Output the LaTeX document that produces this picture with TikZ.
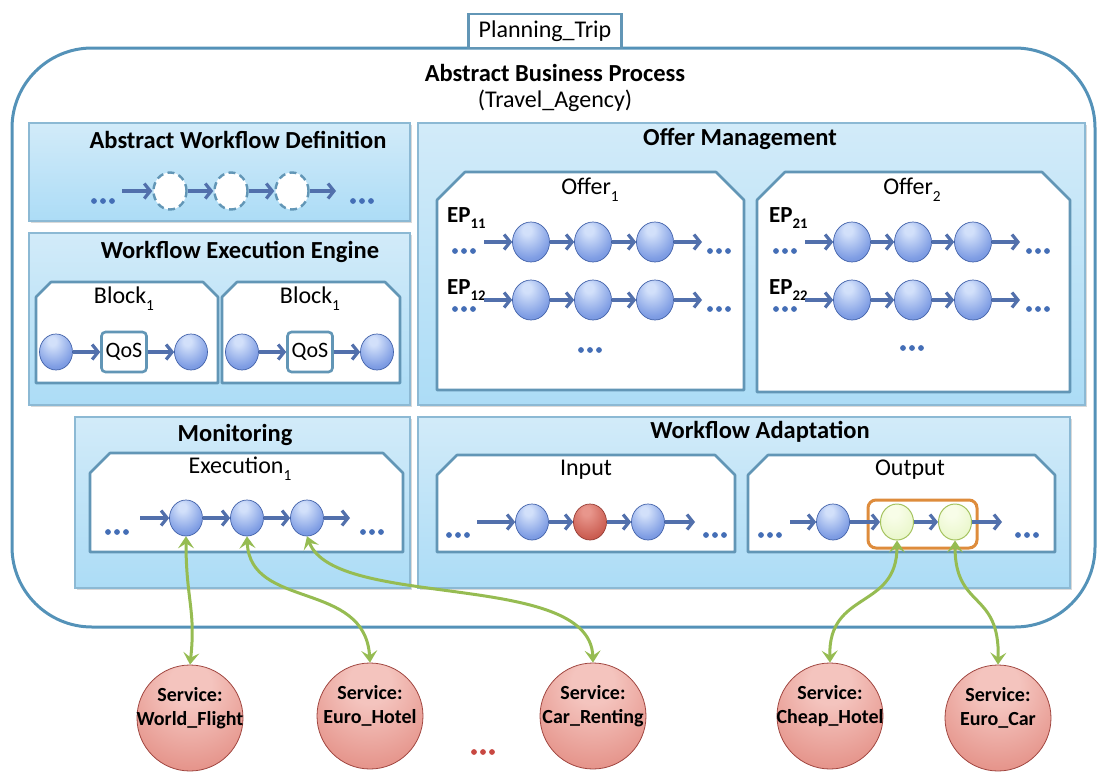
\documentclass[tikz,border=0pt]{standalone}
\usepackage{fontspec}
\setmainfont{Carlito}
\usetikzlibrary{arrows.meta,shapes.geometric,shadows}

% palette
\definecolor{framecol}{RGB}{84,146,184}
\definecolor{panelline}{RGB}{140,185,212}
\definecolor{paneltop}{RGB}{210,235,249}
\definecolor{panelbot}{RGB}{172,220,246}
\definecolor{boxline}{RGB}{98,150,182}
\definecolor{chainblue}{RGB}{82,112,172}
\definecolor{dotblue}{RGB}{68,110,182}
\definecolor{dotred}{RGB}{200,72,66}
\definecolor{linkgreen}{RGB}{150,188,82}
\definecolor{grouporange}{RGB}{222,140,60}
\definecolor{balledge}{RGB}{66,98,170}
\definecolor{redballedge}{RGB}{150,60,52}
\definecolor{greenedge}{RGB}{165,195,95}
\definecolor{svcedge}{RGB}{160,70,64}
% sphere tones
\definecolor{bsA}{RGB}{210,224,250}
\definecolor{bsB}{RGB}{128,158,228}
\definecolor{bsC}{RGB}{76,110,196}
\definecolor{rsA}{RGB}{244,196,190}
\definecolor{rsB}{RGB}{226,138,128}
\definecolor{rsC}{RGB}{198,84,76}
\definecolor{rbA}{RGB}{232,150,140}
\definecolor{rbB}{RGB}{202,92,80}
\definecolor{rbC}{RGB}{172,62,52}
\definecolor{gsA}{RGB}{248,253,232}
\definecolor{gsB}{RGB}{232,246,200}
\definecolor{gsC}{RGB}{210,234,165}

\pgfdeclareradialshading{bluesphere}{\pgfpoint{-6bp}{16bp}}{color(0bp)=(bsA); color(6bp)=(bsA); color(30bp)=(bsB); color(58bp)=(bsC); color(80bp)=(bsC)}
\pgfdeclareradialshading{redsphere}{\pgfpoint{0bp}{18bp}}{color(0bp)=(rsA); color(10bp)=(rsA); color(40bp)=(rsB); color(68bp)=(rsC); color(80bp)=(rsC)}
\pgfdeclareradialshading{redball}{\pgfpoint{-6bp}{16bp}}{color(0bp)=(rbA); color(6bp)=(rbA); color(32bp)=(rbB); color(60bp)=(rbC); color(80bp)=(rbC)}
\pgfdeclareradialshading{greensphere}{\pgfpoint{-6bp}{16bp}}{color(0bp)=(gsA); color(8bp)=(gsA); color(36bp)=(gsB); color(62bp)=(gsC); color(80bp)=(gsC)}

% a white container with cut-off upper corners
\newcommand\tabbox[5]{\draw[tabline] (#1,#4) -- (#1,#2+#5) -- (#1+#5,#2) -- (#3-#5,#2) -- (#3,#2+#5) -- (#3,#4) -- cycle;}
% three dots for an elided sequence
\newcommand\dotrow[3]{\fill[#3] (#1-9,#2) circle (2.9pt) (#1,#2) circle (2.9pt) (#1+9,#2) circle (2.9pt);}
% subscript index set low, as in the labels
\newcommand\idx[1]{\raisebox{-0.3em}{\fontsize{0.64em}{0.7em}\selectfont #1}}

\begin{document}
\begin{tikzpicture}[x=1pt,y=-1pt,
  panel/.style={draw=panelline, line width=1.2pt, top color=paneltop, bottom color=panelbot,
    drop shadow={shadow xshift=1.5pt, shadow yshift=-2pt, opacity=0.3}},
  tabline/.style={draw=boxline, line width=2.6pt, fill=white, line join=round},
  ttl/.style={font=\fontsize{24.5}{26}\selectfont\bfseries, inner sep=0pt},
  lbl/.style={font=\fontsize{24}{26}\selectfont, inner sep=0pt},
  eplbl/.style={font=\fontsize{23}{25}\selectfont\bfseries, inner sep=0pt},
  ball/.style={ellipse, inner sep=0pt, minimum width=33pt, minimum height=36pt, draw=balledge, line width=0.7pt, shading=bluesphere},
  bigball/.style={ball, minimum width=37pt, minimum height=40pt},
  redb/.style={ball, draw=redballedge, shading=redball},
  greenb/.style={ball, draw=greenedge, line width=1pt, shading=greensphere},
  ghost/.style={ellipse, inner sep=0pt, minimum width=33pt, minimum height=37pt, draw=boxline, line width=2.4pt, dash pattern=on 7pt off 4.5pt, fill=white},
  qos/.style={draw=boxline, line width=2.6pt, rounded corners=4pt, fill=white, minimum width=45pt, minimum height=40pt, inner sep=0pt, font=\fontsize{22}{24}\selectfont},
  flow/.style={draw=chainblue, line width=3.2pt, -{Straight Barb[length=6pt,width=15pt]}},
  link/.style={draw=linkgreen, line width=3pt, {Stealth[length=12pt,width=16pt,inset=5pt]}-{Stealth[length=12pt,width=16pt,inset=5pt]}},
  svc/.style={circle, minimum size=106pt, inner sep=0pt, draw=svcedge, line width=0.8pt, shading=redsphere},
  svctxt/.style={font=\fontsize{20}{24}\selectfont\bfseries, align=center, inner sep=0pt},
  outer/.style={draw=framecol, line width=3pt, rounded corners=80pt},
  tripbox/.style={draw=boxline, line width=2.6pt, fill=white, minimum width=153pt, minimum height=34pt, inner sep=0pt, font=\fontsize{24}{26}\selectfont}
]
\useasboundingbox (0,0) rectangle (1103,774);

% ---------- enclosing process ----------
\draw[outer] (12,48) rectangle (1095,627);
\node[tripbox] (trip) at (545,31) {Planning\_Trip};
\node[ttl] (abp) at (555,73) {Abstract Business Process};
\node[lbl] (agency) at (555,101) {(Travel\_Agency)};

% ---------- panels ----------
\draw[panel] (29,123) rectangle (410,221);
\draw[panel] (29,233) rectangle (410,405);
\draw[panel] (418,123) rectangle (1085,405);
\draw[panel] (75,417) rectangle (410,588);
\draw[panel] (418,417) rectangle (1070,588);

\node[ttl] (t1) at (238,140) {Abstract Workflow Definition};
\node[ttl] (t2) at (240,252) {Workflow Execution Engine};
\node[ttl] (t3) at (740,139) {Offer Management};
\node[ttl] (t4) at (235,435) {Monitoring};
\node[ttl] (t5) at (760,432) {Workflow Adaptation};

% ---------- abstract workflow definition ----------
\dotrow{103}{201}{dotblue}
\coordinate (aw0) at (122,191);
\node[ghost] (aw1) at (170,191) {};
\node[ghost] (aw2) at (231,191) {};
\node[ghost] (aw3) at (292,191) {};
\coordinate (aw4) at (336,191);
\dotrow{362}{201}{dotblue}
\draw[flow] (aw0) -- (aw1);
\draw[flow] (aw1) -- (aw2);
\draw[flow] (aw2) -- (aw3);
\draw[flow] (aw3) -- (aw4);

% ---------- workflow execution engine ----------
\tabbox{36}{282}{218}{383}{15}
\tabbox{222}{282}{400}{383}{15}
\node[lbl] (bl1) at (124,299) {Block\idx{1}};
\node[lbl] (bl2) at (310,299) {Block\idx{1}};
\node[ball] (ea1) at (56,352) {};
\node[qos] (qa) at (124,352) {QoS};
\node[ball] (ea2) at (191,352) {};
\node[ball] (eb1) at (242,352) {};
\node[qos] (qb) at (310,352) {QoS};
\node[ball] (eb2) at (377,352) {};
\draw[flow] (ea1) -- (qa);
\draw[flow] (qa) -- (ea2);
\draw[flow] (eb1) -- (qb);
\draw[flow] (qb) -- (eb2);

% ---------- offer management ----------
\tabbox{437}{172}{744}{390}{28}
\tabbox{757}{172}{1070}{392}{28}
\node[lbl] (of1) at (590,190) {Offer\idx{1}};
\node[lbl] (of2) at (912,190) {Offer\idx{2}};

\node[eplbl, anchor=west] (ep11) at (447,218) {EP\idx{11}};
\node[eplbl, anchor=west] (ep12) at (447,290) {EP\idx{12}};
\node[eplbl, anchor=west] (ep21) at (769,218) {EP\idx{21}};
\node[eplbl, anchor=west] (ep22) at (769,290) {EP\idx{22}};

% offer 1
\dotrow{464}{251}{dotblue}
\coordinate (p10) at (484,242);
\node[bigball] (p11) at (531,242) {};
\node[bigball] (p12) at (593,242) {};
\node[bigball] (p13) at (655,242) {};
\coordinate (p14) at (702,242);
\dotrow{719}{251}{dotblue}
\draw[flow] (p10) -- (p11);
\draw[flow] (p11) -- (p12);
\draw[flow] (p12) -- (p13);
\draw[flow] (p13) -- (p14);

\dotrow{464}{309}{dotblue}
\coordinate (q10) at (484,300);
\node[bigball] (q11) at (531,300) {};
\node[bigball] (q12) at (593,300) {};
\node[bigball] (q13) at (655,300) {};
\coordinate (q14) at (702,300);
\dotrow{719}{309}{dotblue}
\draw[flow] (q10) -- (q11);
\draw[flow] (q11) -- (q12);
\draw[flow] (q12) -- (q13);
\draw[flow] (q13) -- (q14);
\dotrow{590}{350}{dotblue}

% offer 2
\dotrow{785}{251}{dotblue}
\coordinate (p20) at (805,242);
\node[bigball] (p21) at (852,242) {};
\node[bigball] (p22) at (913,242) {};
\node[bigball] (p23) at (973,242) {};
\coordinate (p24) at (1020,242);
\dotrow{1038}{251}{dotblue}
\draw[flow] (p20) -- (p21);
\draw[flow] (p21) -- (p22);
\draw[flow] (p22) -- (p23);
\draw[flow] (p23) -- (p24);

\dotrow{785}{309}{dotblue}
\coordinate (q20) at (805,300);
\node[bigball] (q21) at (852,300) {};
\node[bigball] (q22) at (913,300) {};
\node[bigball] (q23) at (973,300) {};
\coordinate (q24) at (1020,300);
\dotrow{1038}{309}{dotblue}
\draw[flow] (q20) -- (q21);
\draw[flow] (q21) -- (q22);
\draw[flow] (q22) -- (q23);
\draw[flow] (q23) -- (q24);
\dotrow{912}{348}{dotblue}

% ---------- monitoring ----------
\tabbox{90}{453}{403}{552}{20}
\node[lbl] (ex) at (240,469) {Execution\idx{1}};
\dotrow{117}{532}{dotblue}
\coordinate (m0) at (140,518);
\node[ball] (m1) at (186,518) {};
\node[ball] (m2) at (247,518) {};
\node[ball] (m3) at (307,518) {};
\coordinate (m4) at (350,518);
\dotrow{372}{532}{dotblue}
\draw[flow] (m0) -- (m1);
\draw[flow] (m1) -- (m2);
\draw[flow] (m2) -- (m3);
\draw[flow] (m3) -- (m4);

% ---------- workflow adaptation ----------
\tabbox{437}{455}{735}{552}{20}
\tabbox{748}{455}{1055}{552}{20}
\node[lbl] (in) at (586,470) {Input};
\node[lbl] (out) at (910,470) {Output};

\dotrow{458}{535}{dotblue}
\coordinate (i0) at (477,522);
\node[ball] (i1) at (532,522) {};
\node[redb] (i2) at (590,522) {};
\node[ball] (i3) at (648,522) {};
\coordinate (i4) at (695,522);
\dotrow{715}{535}{dotblue}
\draw[flow] (i0) -- (i1);
\draw[flow] (i1) -- (i2);
\draw[flow] (i2) -- (i3);
\draw[flow] (i3) -- (i4);

\draw[draw=grouporange, line width=3pt, rounded corners=8pt] (868,500) rectangle (977,548);
\dotrow{770}{535}{dotblue}
\coordinate (o0) at (790,522);
\node[ball] (o1) at (833,522) {};
\node[greenb] (g1) at (897,522) {};
\node[greenb] (g2) at (955,522) {};
\coordinate (o4) at (1002,522);
\dotrow{1027}{535}{dotblue}
\draw[flow] (o0) -- (o1);
\draw[flow] (o1) -- (g1);
\draw[flow] (g1) -- (g2);
\draw[flow] (g2) -- (o4);

% ---------- services ----------
\node[svc] (s1) at (190,718) {};
\node[svc] (s2) at (370,716) {};
\node[svc] (s3) at (593,716) {};
\node[svc] (s4) at (830,716) {};
\node[svc] (s5) at (998,718) {};
\node[svctxt] (s1t) at (190,708) {Service:\\World\_Flight};
\node[svctxt] (s2t) at (370,706) {Service:\\Euro\_Hotel};
\node[svctxt] (s3t) at (593,706) {Service:\\Car\_Renting};
\node[svctxt] (s4t) at (830,706) {Service:\\Cheap\_Hotel};
\node[svctxt] (s5t) at (998,708) {Service:\\Euro\_Car};
\dotrow{483}{752}{dotred}

% ---------- bindings between steps and services ----------
\draw[link] (m1.south) .. controls (186,600) and (196,610) .. (s1.north);
\draw[link] (m2.south) .. controls (250,610) and (365,580) .. (s2.north);
\draw[link] (m3.south) .. controls (335,610) and (590,570) .. (s3.north);
\draw[link] (g1.south) .. controls (897,610) and (828,590) .. (s4.north);
\draw[link] (g2.south) .. controls (955,610) and (1000,590) .. (s5.north);
\end{tikzpicture}
\end{document}
